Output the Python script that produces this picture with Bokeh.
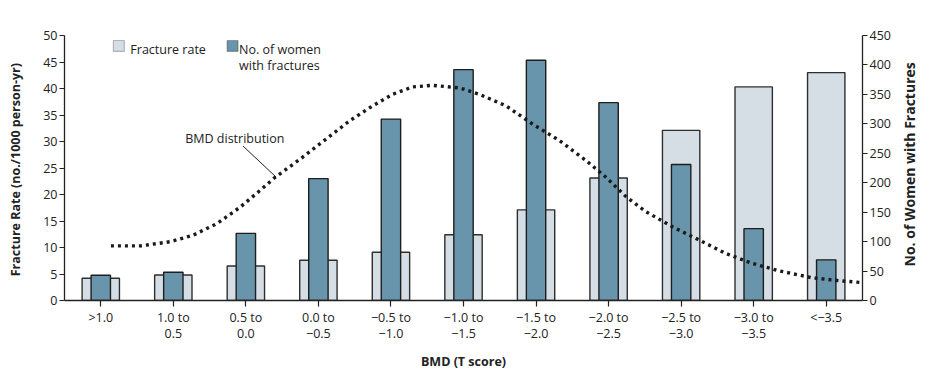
from bokeh.plotting import figure
from bokeh.layouts import row
from bokeh.models import Range1d, LinearAxis, FixedTicker, Label, BoxAnnotation, Arrow
from bokeh.embed import file_html
from bokeh.resources import INLINE

categories = [">1.0", "1.0 to\n0.5", "0.5 to\n0.0", "0.0 to\n\u22120.5", "\u22120.5 to\n\u22121.0",
              "\u22121.0 to\n\u22121.5", "\u22121.5 to\n\u22122.0", "\u22122.0 to\n\u22122.5",
              "\u22122.5 to\n\u22123.0", "\u22123.0 to\n\u22123.5", "<\u22123.5"]
fracture_rate = [4.2, 4.8, 6.5, 7.6, 9.1, 12.4, 17.1, 23.1, 32.1, 40.3, 43.0]
women_with_fractures = [43, 48, 114, 207, 308, 392, 408, 336, 231, 122, 69]
# BMD distribution curve (position along category axis, value on left axis scale)
bmd_x = [0.14, 0.55, 0.96, 1.27, 1.60, 1.92, 2.19, 2.40, 2.75, 3.11, 3.43, 3.71, 4.02, 4.30, 4.57,
         4.95, 5.22, 5.59, 5.95, 6.32, 6.69, 6.96, 7.24, 7.51, 7.88, 8.25, 8.61, 8.98, 9.35, 9.80,
         10.17, 10.47]
bmd_y = [10.3, 10.3, 11.1, 12.3, 14.5, 17.6, 20.7, 23.2, 26.7, 30.5, 33.9, 36.4, 38.9, 40.3, 40.6,
         40.1, 38.9, 36.7, 33.3, 30.2, 26.4, 23.3, 19.6, 16.8, 13.9, 11.4, 8.9, 7.0, 5.6, 4.3,
         3.75, 3.4]
left_ticks = list(range(0, 51, 5))
right_ticks = list(range(0, 451, 50))
left_title = "Fracture Rate  (no./1000 person-yr)"
right_title = "No. of Women with Fractures"
x_title = "BMD (T score)"

FONT = "Open Sans"
INK = "#222222"
LIGHT = "#d5dee5"
BLUE = "#6895ab"
NBSP = "\u00a0"

xs = list(range(len(categories)))

p = figure(width=893, height=373, x_range=Range1d(-0.5, 10.5), y_range=Range1d(0, 50),
           output_backend="svg", toolbar_location=None,
           min_border_left=64, min_border_right=29, min_border_top=35, min_border_bottom=72)
p.extra_y_ranges = {"right": Range1d(0, 450)}
p.outline_line_color = None
p.xgrid.visible = False
p.ygrid.visible = False
p.background_fill_color = "white"

p.vbar(x=xs, top=fracture_rate, width=0.515, bottom=0, fill_color=LIGHT,
       line_color="#2e2e2e", line_width=1.4)
p.vbar(x=xs, top=women_with_fractures, width=0.267, bottom=0, fill_color=BLUE,
       line_color="#1e1e1e", line_width=1.4, y_range_name="right")
p.line(bmd_x, bmd_y, line_color="#1a1a1a", line_width=3.4, line_dash="3 4")

# axes
def style_axis(ax):
    ax.axis_line_color = INK
    ax.axis_line_width = 1.3
    ax.major_tick_line_color = INK
    ax.major_tick_line_width = 1.2
    ax.major_tick_in = 0
    ax.minor_tick_line_color = None
    ax.major_label_text_font = FONT
    ax.major_label_text_font_size = "12.5px"
    ax.major_label_text_color = INK
    ax.axis_label_text_font = FONT
    ax.axis_label_text_font_size = "12.5px"
    ax.axis_label_text_font_style = "bold"
    ax.axis_label_text_color = INK

xa = p.xaxis[0]
style_axis(xa)
xa.ticker = FixedTicker(ticks=xs)
xa.major_label_overrides = {i: c for i, c in enumerate(categories)}
xa.major_label_text_line_height = 0.98
xa.major_tick_out = 6
xa.major_label_standoff = 2
xa.axis_label = x_title
xa.axis_label_standoff = 8

ya = p.yaxis[0]
style_axis(ya)
ya.ticker = FixedTicker(ticks=left_ticks)
ya.major_tick_out = 5
ya.major_label_standoff = 2
ya.axis_label = left_title
ya.axis_label_standoff = 16

ra = LinearAxis(y_range_name="right")
style_axis(ra)
ra.ticker = FixedTicker(ticks=right_ticks)
ra.major_tick_out = 5
ra.major_label_standoff = 2
p.add_layout(ra, "right")

# helpers for placing annotations at picture positions
def xpx(px):
    return (px - 64) / 72.727 - 0.5

def ypx(py):
    return (301 - py) / 5.32

# legend (manual)
p.add_layout(BoxAnnotation(left=xpx(113), right=xpx(124), top=ypx(40), bottom=ypx(51),
                           fill_color=LIGHT, fill_alpha=1, line_color="#2e2e2e", line_width=1.2))
p.add_layout(BoxAnnotation(left=xpx(227), right=xpx(238), top=ypx(40), bottom=ypx(51),
                           fill_color=BLUE, fill_alpha=1, line_color="#1e1e1e", line_width=1.2))
for txt, px, py in [("Fracture rate", 130, 49), ("No. of women", 239, 49), ("with fractures", 239, 65)]:
    p.add_layout(Label(x=xpx(px), y=ypx(py), text=txt, text_font=FONT, text_font_size="12.5px",
                       text_color=INK, text_baseline="alphabetic", text_align="left"))

p.add_layout(Label(x=xpx(185), y=ypx(138), text="BMD distribution", text_font=FONT,
                   text_font_size="12.5px", text_color=INK, text_baseline="alphabetic",
                   text_align="left"))
p.add_layout(Arrow(end=None, x_start=xpx(243), y_start=ypx(146), x_end=xpx(276), y_end=ypx(177),
                   line_color=INK, line_width=1))

# narrow companion figure carrying the right-hand title, reading bottom-to-top
p2 = figure(width=37, height=373, output_backend="svg", toolbar_location=None,
            min_border_left=30, min_border_right=0, min_border_top=35, min_border_bottom=72,
            x_range=Range1d(0, 1), y_range=Range1d(0, 1))
p2.outline_line_color = None
p2.xaxis.visible = False
p2.xgrid.visible = False
p2.ygrid.visible = False
t = p2.yaxis[0]
t.ticker = FixedTicker(ticks=[])
t.axis_line_color = None
t.major_tick_line_color = None
t.minor_tick_line_color = None
t.major_tick_out = 0
t.major_tick_in = 0
t.major_label_standoff = 0
t.axis_label = NBSP * 2 + right_title
t.axis_label_text_font = FONT
t.axis_label_text_font_size = "14px"
t.axis_label_text_font_style = "bold"
t.axis_label_text_color = INK
t.axis_label_standoff = 5

layout = row(p, p2)
open("out.html", "w").write(file_html(layout, INLINE))
